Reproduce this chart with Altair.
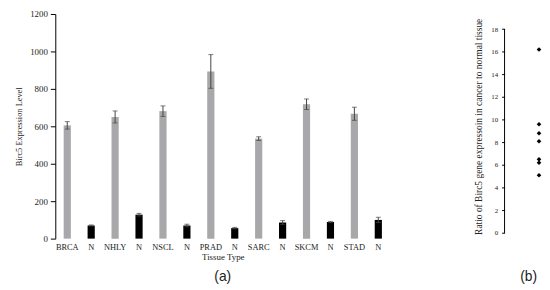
import altair as alt
import pandas as pd

categories = ["BRCA", "N1", "NHLY", "N2", "NSCL", "N3", "PRAD", "N4",
              "SARC", "N5", "SKCM", "N6", "STAD", "N7"]
groups = ["Cancer", "Normal"] * 7
means = [605, 70, 650, 128, 681, 70, 893, 56, 534, 86, 718, 89, 667, 100]
errors = [20, 3, 32, 7, 28, 7, 90, 4, 10, 10, 28, 3, 35, 14]
ratios = [16.2, 9.6, 8.8, 8.1, 6.5, 6.2, 5.1]
ratio_axis = [0, 18]

SERIF = "Liberation Serif"
SANS = "Liberation Sans"

df = pd.DataFrame({"cat": categories, "group": groups, "mean": means, "err": errors})
df["lo"] = df["mean"] - df["err"]
df["hi"] = df["mean"] + df["err"]

xaxis = alt.Axis(title="Tissue Type", labelAngle=0, domain=False, ticks=False,
                 labelExpr="test(/^N[0-9]$/, datum.value) ? 'N' : datum.value",
                 labelFont=SERIF, labelFontSize=8.5, labelColor="#222",
                 titleFont=SERIF, titleFontSize=9, titleFontWeight="normal",
                 titleColor="#222", labelPadding=4, titlePadding=2)
xscale = alt.Scale(paddingInner=0.7, paddingOuter=0.35)
yaxis = alt.Axis(values=list(range(0, 1201, 200)), format="d", labelOverlap=False,
                 grid=False, tickSize=5, domainColor="#000", tickColor="#000",
                 title="Birc5 Expression Level",
                 labelFont=SERIF, labelFontSize=9, labelColor="#222",
                 titleFont=SERIF, titleFontSize=8.5, titleFontWeight="normal",
                 titleColor="#222", labelPadding=3, titlePadding=6)
yscale_a = alt.Scale(domain=[0, 1200])

def X():
    return alt.X("cat:N", sort=categories, scale=xscale, axis=xaxis)

base = alt.Chart(df)
bars = base.mark_bar().encode(
    x=X(),
    y=alt.Y("mean:Q", scale=yscale_a, axis=yaxis),
    color=alt.Color("group:N", scale=alt.Scale(domain=["Cancer", "Normal"],
                                               range=["#a8a7a9", "#000000"]), legend=None),
)
rule = base.mark_rule(color="#444", strokeWidth=1).encode(
    x=X(), y=alt.Y("lo:Q", scale=yscale_a, axis=yaxis), y2="hi:Q")
cap_lo = base.mark_tick(color="#444", size=5, thickness=1).encode(
    x=X(), y=alt.Y("lo:Q", scale=yscale_a, axis=yaxis))
cap_hi = base.mark_tick(color="#444", size=5, thickness=1).encode(
    x=X(), y=alt.Y("hi:Q", scale=yscale_a, axis=yaxis))

left = alt.layer(bars, rule, cap_lo, cap_hi).properties(
    width=340, height=228,
    title=alt.TitleParams("(a)", orient="bottom", font=SANS, fontSize=14,
                          fontWeight="normal", color="#222", offset=8),
)

df2 = pd.DataFrame({"grp": ["ratio"] * len(ratios), "ratio": ratios})
yscale_b = alt.Scale(domain=[-0.5, 19.33], nice=False, zero=False)
yaxis_b = alt.Axis(values=list(range(0, 19, 2)), labelOverlap=False, grid=False, tickSize=3,
                   domain=False, tickColor="#000",
                   title="Ratio of Birc5 gene expressoin in cancer to normal tissue",
                   labelFont=SERIF, labelFontSize=7, labelColor="#222",
                   titleFont=SERIF, titleFontSize=9.6, titleFontWeight="normal",
                   titleColor="#222", labelPadding=4, titlePadding=7)
xscale_b = alt.Scale(type="point", paddingOuter=0, align=0.92)
xaxis_b = alt.Axis(labels=False, ticks=False, domain=False, title="(b)",
                   titleFont=SANS, titleFontSize=14, titleFontWeight="normal",
                   titleColor="#222", titlePadding=32, titleX=24, titleAlign="center")

points = alt.Chart(df2).mark_point(shape="diamond", filled=True, size=22,
                                   color="#000", opacity=1).encode(
    x=alt.X("grp:N", scale=xscale_b, axis=xaxis_b),
    y=alt.Y("ratio:Q", scale=yscale_b, axis=yaxis_b),
)
axis_line = alt.Chart(pd.DataFrame({"lo": [ratio_axis[0]], "hi": [ratio_axis[1]]})).mark_rule(
    color="#000", strokeWidth=1).encode(
    x=alt.value(0), y=alt.Y("lo:Q", scale=yscale_b, axis=yaxis_b), y2="hi:Q")

right = alt.layer(axis_line, points).properties(width=38, height=228)

chart = alt.hconcat(left, right, spacing=85).properties(
    padding={"left": 7, "top": 0, "right": 0, "bottom": 0}
).configure_view(stroke=None)

chart.save("out.html", embed_options={"renderer": "svg", "actions": False})
